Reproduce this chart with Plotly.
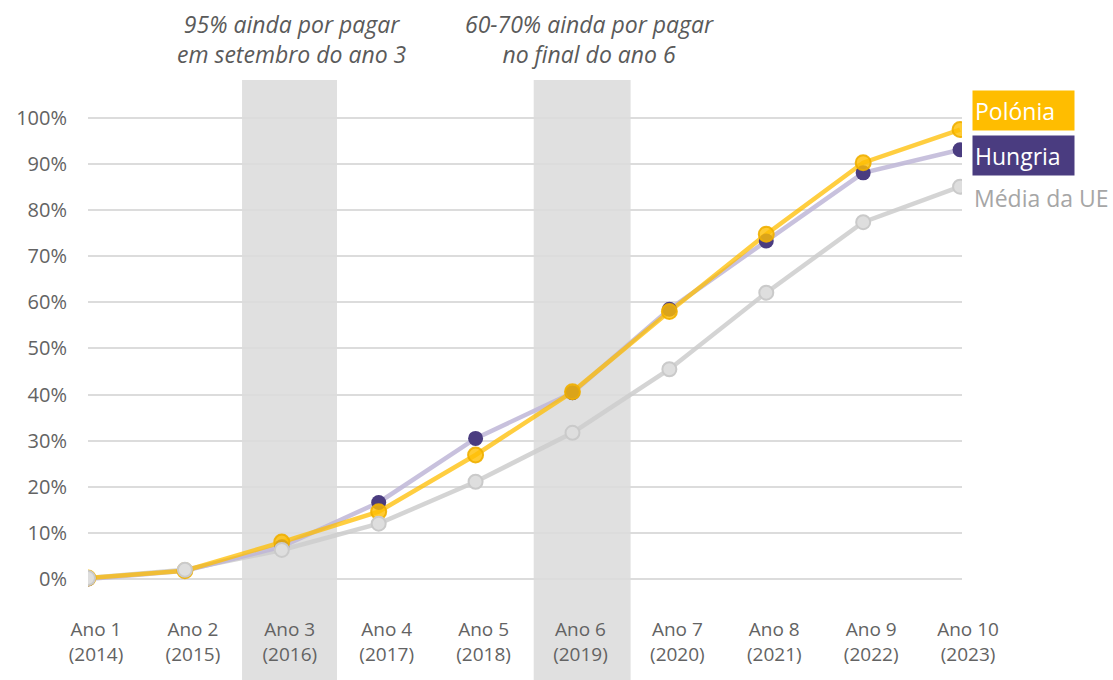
import plotly.graph_objects as go

# Cumulative payments as a share of the 2014-2020 allocation
anos = ["Ano 1", "Ano 2", "Ano 3", "Ano 4", "Ano 5", "Ano 6", "Ano 7", "Ano 8", "Ano 9", "Ano 10"]
anos_civis = ["2014", "2015", "2016", "2017", "2018", "2019", "2020", "2021", "2022", "2023"]
polonia = [0.2, 1.8, 8.0, 14.6, 26.9, 40.6, 58.0, 74.8, 90.3, 97.5]
hungria = [0.0, 1.8, 7.0, 16.6, 30.5, 40.4, 58.5, 73.3, 88.1, 93.1]
media_ue = [0.2, 2.0, 6.3, 12.0, 21.1, 31.7, 45.5, 62.1, 77.4, 85.1]
y_ticks = [0, 10, 20, 30, 40, 50, 60, 70, 80, 90, 100]

W, H = 1113, 680
ML, MR, MT, MB = 88, 151, 100, 80
PW, PH = W - ML - MR, H - MT - MB

FONT = "Open Sans"
GREY_TXT = "#636363"
YELLOW = "#FFBD00"
PURPLE = "#4A3C80"

def px_x(px):
    return (px - ML) / PW

def px_y(py):
    return (H - MB - py) / PH

x = list(range(1, len(anos) + 1))

fig = go.Figure()

# Lines first (EU average, Hungary, Poland), markers drawn afterwards
fig.add_trace(go.Scatter(x=x, y=media_ue, mode="lines",
                         line=dict(color="rgba(205,205,205,0.85)", width=4.5),
                         hoverinfo="skip", showlegend=False))
fig.add_trace(go.Scatter(x=x, y=hungria, mode="lines",
                         line=dict(color="rgba(190,182,215,0.85)", width=4.5),
                         hoverinfo="skip", showlegend=False))
fig.add_trace(go.Scatter(x=x, y=polonia, mode="lines",
                         line=dict(color="rgba(255,190,0,0.75)", width=4.5),
                         hoverinfo="skip", showlegend=False))
fig.add_trace(go.Scatter(x=x, y=hungria, mode="markers", name="Hungria",
                         marker=dict(size=15, color=PURPLE, line=dict(width=0)),
                         showlegend=False))
fig.add_trace(go.Scatter(x=x, y=polonia, mode="markers", name="Polónia",
                         marker=dict(size=15, color="rgba(255,190,0,0.8)",
                                     line=dict(width=2, color="rgba(240,175,0,0.9)")),
                         showlegend=False))
fig.add_trace(go.Scatter(x=x, y=media_ue, mode="markers", name="Média da UE",
                         marker=dict(size=14, color="#DEDEDE",
                                     line=dict(width=2, color="#CACACA")),
                         showlegend=False))

# Shaded years 3 and 6
for x0, x1 in [(2.59, 3.57), (5.6, 6.6)]:
    fig.add_shape(type="rect", xref="x", yref="paper", x0=x0, x1=x1,
                  y0=px_y(H), y1=px_y(80), fillcolor="#E0E0E0",
                  line=dict(width=0), layer="between")

annotations = [
    dict(text="<i>95% ainda por pagar<br>em setembro do ano 3</i>",
         x=px_x(292), y=px_y(39)),
    dict(text="<i>60-70% ainda por pagar<br>no final do ano 6</i>",
         x=px_x(589), y=px_y(39)),
]
for a in annotations:
    fig.add_annotation(xref="paper", yref="paper", x=a["x"], y=a["y"],
                       text=a["text"], showarrow=False, xanchor="center",
                       yanchor="middle", align="center",
                       font=dict(family=FONT, size=23, color="#5A5A5A"))

# Series labels at the end of the lines
fig.add_annotation(xref="paper", yref="paper", x=px_x(972), y=px_y(110.5),
                   text="Polónia", showarrow=False, xanchor="left", yanchor="middle",
                   align="left", width=97, height=35, bgcolor=YELLOW, borderpad=2,
                   font=dict(family=FONT, size=23, color="white"))
fig.add_annotation(xref="paper", yref="paper", x=px_x(972), y=px_y(155.5),
                   text="Hungria", showarrow=False, xanchor="left", yanchor="middle",
                   align="left", width=97, height=35, bgcolor=PURPLE, borderpad=2,
                   font=dict(family=FONT, size=23, color="white"))
fig.add_annotation(xref="paper", yref="paper", x=px_x(972), y=px_y(198),
                   text="Média da UE", showarrow=False, xanchor="left", yanchor="middle",
                   align="left",
                   font=dict(family=FONT, size=23, color="#A6A6A6"))

fig.update_layout(
    width=W, height=H,
    margin=dict(l=ML, r=MR, t=MT, b=MB),
    paper_bgcolor="white", plot_bgcolor="white",
    font=dict(family=FONT, color=GREY_TXT),
    xaxis=dict(range=[1, 10.02], tickvals=x,
               ticktext=[f"{a}<br>({c})" for a, c in zip(anos, anos_civis)],
               showgrid=False, zeroline=False, showline=False,
               ticklabelshift=8, ticklabelstandoff=16,
               tickfont=dict(family=FONT, size=19, color=GREY_TXT)),
    yaxis=dict(range=[-4.555, 103.9], tickvals=y_ticks,
               ticktext=[f"{v}%" for v in y_ticks],
               showgrid=True, gridcolor="#DCDCDC", gridwidth=2,
               zeroline=False, showline=False, ticklabelstandoff=20,
               tickfont=dict(family=FONT, size=20, color=GREY_TXT)),
)

fig.write_html("out.html")
